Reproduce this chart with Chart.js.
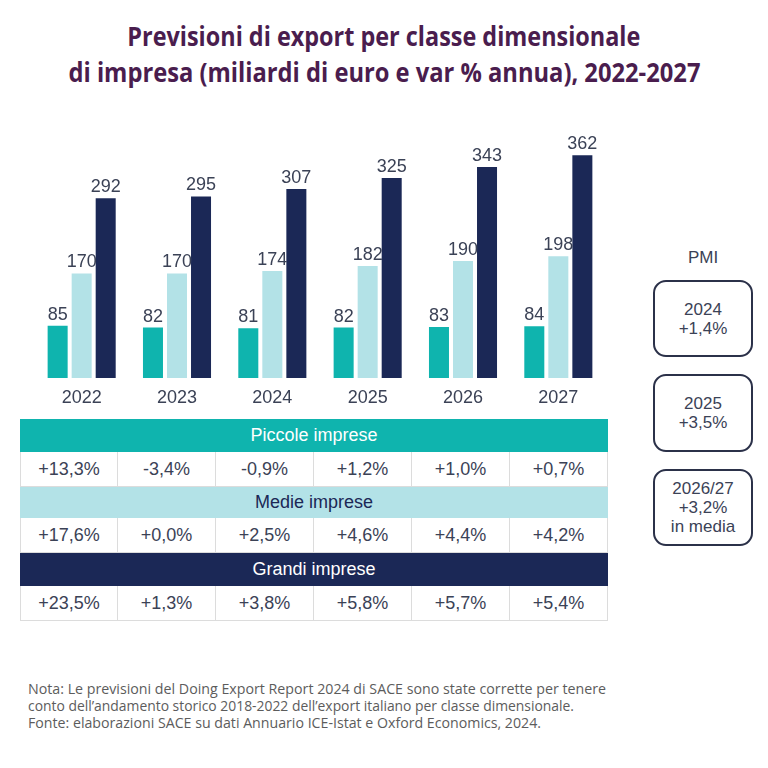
<!DOCTYPE html>
<html>
<head>
<meta charset="utf-8">
<script src="https://cdn.jsdelivr.net/npm/chart.js@4/dist/chart.umd.min.js"></script>
<style>
  html,body{margin:0;padding:0;background:#fff;}
  body{width:768px;height:768px;position:relative;overflow:hidden;font-family:"Liberation Sans",Arial,sans-serif;}
  .title{position:absolute;left:0;width:768px;text-align:center;color:#4a1d4e;font-family:"Open Sans",sans-serif;font-weight:700;font-size:26px;line-height:34px;white-space:nowrap;}
  .title span,.note span{display:inline-block;transform-origin:center center;}
  .note{position:absolute;left:28px;color:#5c5c5c;font-family:"Open Sans",sans-serif;font-size:14px;line-height:17px;white-space:nowrap;}
  .note span{transform-origin:left center;}
  #chartWrap{position:absolute;left:20px;top:110px;width:600px;height:310px;}
  .cell{position:absolute;box-sizing:border-box;display:flex;align-items:center;justify-content:center;font-size:18px;color:#3b4256;white-space:nowrap;}
  .hdr{font-size:18px;}
  .val{border-right:1px solid #dcdcdc;border-bottom:1px solid #dcdcdc;}
  .pmiT{position:absolute;left:653px;width:100px;text-align:center;font-size:17px;color:#3b4256;}
  .box{position:absolute;left:653px;width:100px;box-sizing:border-box;border:2px solid #2b3149;border-radius:13px;display:flex;flex-direction:column;align-items:center;justify-content:center;font-size:17px;line-height:19px;color:#3b4256;text-align:center;}
</style>
</head>
<body>
<div class="title" style="top:19px"><span id="t1"></span></div>
<div class="title" style="top:55px"><span id="t2"></span></div>
<div id="chartWrap"><canvas id="c" width="600" height="310"></canvas></div>
<div id="table"></div>
<div id="pmi"></div>
<div id="notes"></div>
<script>
// ---- data ----
const titleLines = ['Previsioni di export per classe dimensionale','di impresa (miliardi di euro e var % annua), 2022-2027'];
const years = ['2022','2023','2024','2025','2026','2027'];
const piccole = [85,82,81,82,83,84];
const medie = [170,170,174,182,190,198];
const grandi = [292,295,307,325,343,362];
const seriesNames = ['Piccole imprese','Medie imprese','Grandi imprese'];
const varPiccole = ['+13,3%','-3,4%','-0,9%','+1,2%','+1,0%','+0,7%'];
const varMedie = ['+17,6%','+0,0%','+2,5%','+4,6%','+4,4%','+4,2%'];
const varGrandi = ['+23,5%','+1,3%','+3,8%','+5,8%','+5,7%','+5,4%'];
const pmiTitle = 'PMI';
const pmiBoxes = [['2024','+1,4%'],['2025','+3,5%'],['2026/27','+3,2%','in media']];
const noteLines = [
 'Nota: Le previsioni del Doing Export Report 2024 di SACE sono state corrette per tenere',
 'conto dell\u2019andamento storico 2018-2022 dell\u2019export italiano per classe dimensionale.',
 'Fonte: elaborazioni SACE su dati Annuario ICE-Istat e Oxford Economics, 2024.'
];

// ---- styles ----
const colors = ['#0fb4ae','#b3e2e7','#1b2856'];
const hdrText = ['#ffffff','#1b2856','#ffffff'];
const textCol = '#3b4256';

// title & notes fitted to reference widths
function fit(el, target){ const w = el.getBoundingClientRect().width; el.style.transform = 'scaleX(' + (target / w) + ')'; }
document.getElementById('t1').textContent = titleLines[0];
document.getElementById('t2').textContent = titleLines[1];
fit(document.getElementById('t1'), 513);
fit(document.getElementById('t2'), 632);

const notesEl = document.getElementById('notes');
const noteTops = [680, 697, 714];
const noteW = [578, 546, 513];
noteLines.forEach((l,i)=>{
  const d = document.createElement('div'); d.className='note'; d.style.top = noteTops[i]+'px';
  const s = document.createElement('span'); s.textContent = l; d.appendChild(s); notesEl.appendChild(d);
  fit(s, noteW[i]);
});

// table
const tbl = document.getElementById('table');
const rowTops = [419,452,487,518,553,586,621];
const tLeft = 20, colW = 98;
const vars = [varPiccole, varMedie, varGrandi];
for(let g=0; g<3; g++){
  const hTop = rowTops[g*2], hBot = rowTops[g*2+1], vBot = rowTops[g*2+2];
  const h = document.createElement('div'); h.className='cell hdr';
  Object.assign(h.style,{left:tLeft+'px',top:hTop+'px',width:(colW*6)+'px',height:(hBot-hTop)+'px',background:colors[g],color:hdrText[g]});
  h.textContent = seriesNames[g]; tbl.appendChild(h);
  vars[g].forEach((v,i)=>{
    const c = document.createElement('div'); c.className='cell val';
    Object.assign(c.style,{left:(tLeft+i*colW)+'px',top:hBot+'px',width:colW+'px',height:(vBot-hBot)+'px'});
    if(i===0) c.style.borderLeft='1px solid #dcdcdc';
    c.textContent = v; tbl.appendChild(c);
  });
}

// PMI
const pmiEl = document.getElementById('pmi');
const pt = document.createElement('div'); pt.className='pmiT'; pt.style.top='248px'; pt.textContent=pmiTitle; pmiEl.appendChild(pt);
const boxTops = [280,374,469], boxH = [77,78,77];
pmiBoxes.forEach((lines,i)=>{
  const b = document.createElement('div'); b.className='box';
  b.style.top = boxTops[i]+'px'; b.style.height = boxH[i]+'px';
  lines.forEach(l=>{ const s=document.createElement('div'); s.textContent=l; b.appendChild(s); });
  pmiEl.appendChild(b);
});

// chart
const valueLabels = {
  id:'valueLabels',
  afterDatasetsDraw(chart){
    const ctx = chart.ctx; ctx.save();
    ctx.font = '18px "Liberation Sans", Arial, sans-serif';
    ctx.fillStyle = textCol; ctx.textAlign='center'; ctx.textBaseline='alphabetic';
    chart.data.datasets.forEach((ds,di)=>{
      chart.getDatasetMeta(di).data.forEach((bar,i)=>{
        ctx.fillText(String(ds.data[i]), bar.x, bar.y - 6);
      });
    });
    ctx.restore();
  }
};
new Chart(document.getElementById('c'),{
  type:'bar',
  data:{
    labels: years,
    datasets: [
      {label:seriesNames[0], data:piccole, backgroundColor:colors[0]},
      {label:seriesNames[1], data:medie, backgroundColor:colors[1]},
      {label:seriesNames[2], data:grandi, backgroundColor:colors[2]}
    ]
  },
  options:{
    responsive:false, animation:false,
    devicePixelRatio:1,
    categoryPercentage:0.756, barPercentage:0.833,
    layout:{padding:{left:14,right:14,top:20,bottom:0}},
    plugins:{legend:{display:false}, tooltip:{enabled:false}},
    scales:{
      x:{
        grid:{display:false, drawTicks:false}, border:{display:false},
        ticks:{color:textCol, font:{family:'"Liberation Sans", Arial, sans-serif', size:18}, padding:9},
        afterFit(s){ s.height = 42; }
      },
      y:{display:false, min:0, max:403}
    }
  },
  plugins:[valueLabels]
});
</script>
</body>
</html>
